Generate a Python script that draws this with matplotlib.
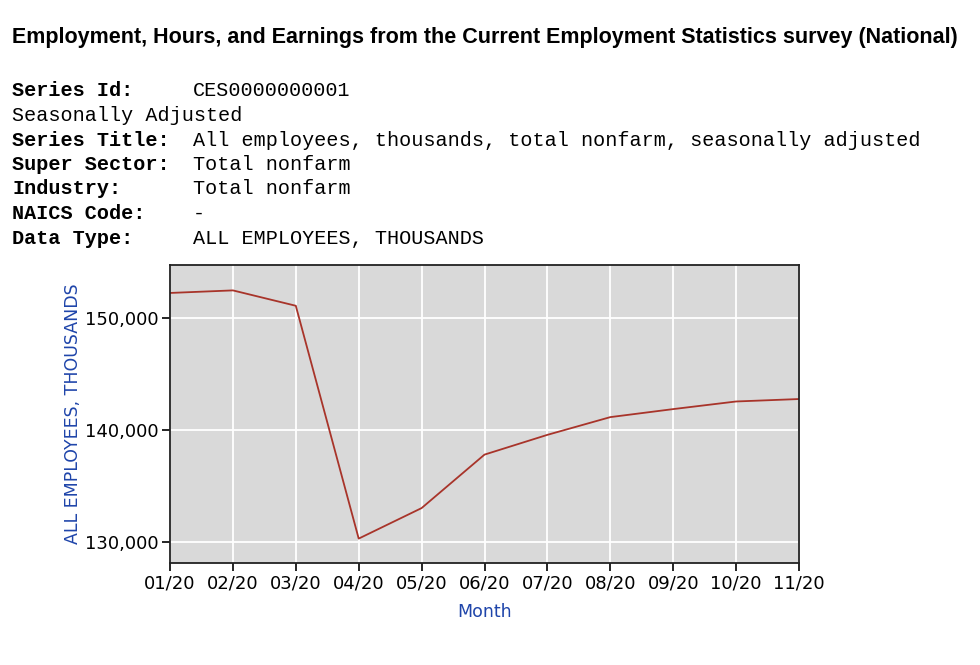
import matplotlib.pyplot as plt
import numpy as np

# series CES0000000001, 2020
months = ["01/20", "02/20", "03/20", "04/20", "05/20", "06/20",
          "07/20", "08/20", "09/20", "10/20", "11/20"]
employees = [152234, 152463, 151090, 130303, 133028, 137802,
             139566, 141149, 141865, 142545, 142764]

meta_labels = ["Series Id:", None, "Series Title:", "Super Sector:",
               "Industry:", "NAICS Code:", "Data Type:"]
meta_values = ["CES0000000001", "Seasonally Adjusted",
               "All employees, thousands, total nonfarm, seasonally adjusted",
               "Total nonfarm", "Total nonfarm", "-", "ALL EMPLOYEES, THOUSANDS"]

yticks = [130000, 140000, 150000]

fig = plt.figure(figsize=(9.8, 6.65), dpi=100)

fig.text(12 / 980, 1 - 37 / 665, "Employment, Hours, and Earnings from the Current "
         "Employment Statistics survey (National)",
         fontsize=15.5, fontweight="bold", family="Liberation Sans", va="center")

mono = "Liberation Mono"
for i in range(len(meta_values)):
    y = 1 - (91 + i * 24.5) / 665
    if meta_labels[i] is None:
        fig.text(12 / 980, y, meta_values[i], family=mono, fontsize=14.5, va="center")
    else:
        fig.text(12 / 980, y, meta_labels[i], family=mono, fontsize=14.5,
                 fontweight="bold", va="center")
        fig.text(193 / 980, y, meta_values[i], family=mono, fontsize=14.5, va="center")

ax = fig.add_axes([170 / 980, 1 - 563 / 665, 629 / 980, 298 / 665])
ax.set_facecolor("#d9d9d9")
x = np.arange(len(months))
ax.plot(x, employees, color="#a8342a", lw=1.3)

ax.set_xlim(0, len(months) - 1)
ax.set_ylim(128125, 154730)
ax.set_xticks(x)
ax.set_xticklabels(months)
ax.set_yticks(yticks)
ax.set_yticklabels(["{:,}".format(v) for v in yticks])
ax.grid(True, color="white", lw=1.3)
ax.set_axisbelow(True)
ax.tick_params(labelsize=13, length=6, width=1.2, direction="out", pad=2)
for s in ax.spines.values():
    s.set_linewidth(1.3)
    s.set_color("#222222")

blue = "#1f45aa"
ax.set_ylabel("ALL EMPLOYEES, THOUSANDS", color=blue, fontsize=12.5, labelpad=2)
ax.set_xlabel("Month", color=blue, fontsize=12.5, labelpad=8)

fig.savefig("out.png", dpi=100)
